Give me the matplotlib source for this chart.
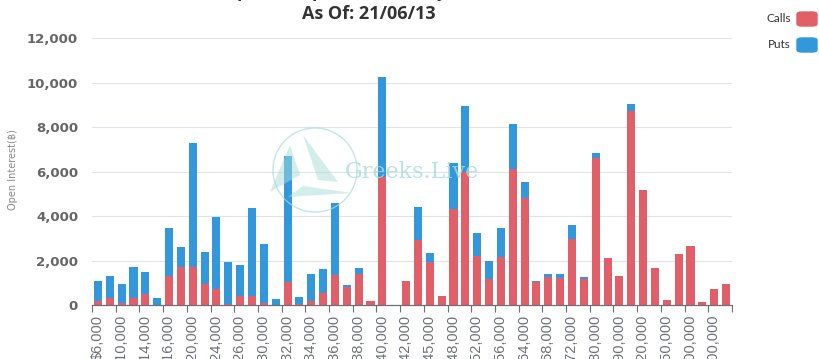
import numpy as np
import matplotlib
matplotlib.use("Agg")
import matplotlib.pyplot as plt
from matplotlib.patches import FancyBboxPatch, Ellipse, Polygon

# ----------------------
# data
# ----------------------
strikes = [6000, 8000, 10000, 12000, 14000, 15000, 16000, 18000, 20000, 22000,
           24000, 25000, 26000, 28000, 30000, 31000, 32000, 33000, 34000, 35000,
           36000, 37000, 38000, 39000, 40000, 41000, 42000, 44000, 45000, 46000,
           48000, 50000, 52000, 54000, 56000, 60000, 64000, 65000, 68000, 70000,
           72000, 75000, 80000, 85000, 90000, 100000, 120000, 140000, 150000, 160000,
           200000, 250000, 300000, 400000]
calls = [200, 330, 80, 300, 490, 0, 1300, 1720, 1700, 950,
         700, 30, 400, 400, 80, 0, 1050, 30, 180, 560,
         1350, 800, 1400, 195, 5760, 0, 1100, 2920, 1920, 400,
         4300, 5990, 2200, 1170, 2170, 6100, 4820, 1050, 1250, 1200,
         2950, 1180, 6590, 2120, 1320, 8730, 5160, 1680, 225, 2300,
         2650, 120, 720, 940]
puts = [900, 970, 870, 1400, 1010, 300, 2170, 900, 5600, 1450,
        3270, 1890, 1400, 3940, 2640, 250, 5640, 320, 1210, 1060,
        3220, 100, 280, 0, 4490, 0, 0, 1500, 430, 0,
        2060, 2960, 1050, 830, 1290, 2030, 690, 40, 130, 180,
        640, 70, 260, 0, 0, 300, 0, 0, 0, 0,
        0, 0, 0, 0]

labels = ["${:,}".format(s) for s in strikes]

RED = "#e05f68"
BLUE = "#3398db"

fig = plt.figure(figsize=(8.2, 3.59), dpi=100)
ax = fig.add_axes([92 / 820, 1 - 305 / 359, 640 / 820, 267 / 359])

x = np.arange(len(strikes))
ax.bar(x, calls, width=0.68, color=RED, zorder=3)
ax.bar(x, puts, width=0.68, bottom=calls, color=BLUE, zorder=3)

ax.set_xlim(-0.5, len(strikes) - 0.5)
ax.set_ylim(0, 12000)

# y axis
ax.set_yticks(range(0, 12001, 2000))
ax.set_yticklabels(["{:,}".format(v) for v in range(0, 12001, 2000)],
                   fontsize=9.5, fontweight="bold", color="#666666")
ax.tick_params(axis="y", length=0, pad=10)
ax.grid(axis="y", color="#e0e3ea", linewidth=0.8, zorder=0)

# x axis: ticks on boundaries, labels on every other bar
ax.set_xticks(np.arange(-0.5, len(strikes), 2))
ax.set_xticklabels([])
ax.tick_params(axis="x", which="major", length=5, color="#6e7079", width=0.8)
ax.set_xticks(x[::2], minor=True)
ax.set_xticklabels(labels[::2], minor=True, rotation=90, fontsize=10.5,
                   color="#6e7079", family="Liberation Sans")
ax.tick_params(axis="x", which="minor", length=0, pad=7)

for s in ["top", "right", "left"]:
    ax.spines[s].set_visible(False)
ax.spines["bottom"].set_color("#6e7079")
ax.spines["bottom"].set_linewidth(0.9)
ax.spines["bottom"].set_zorder(4)

fig.text(8 / 820, 1 - 170 / 359, "Open Interest(\u0e3f)", rotation=90,
         fontsize=7, color="#888888", ha="left", va="center",
         family=["DejaVu Sans", "Noto Sans"])

# title (first line is cut off at the top)
fig.text(369 / 820, 1 + 3 / 359, "BTC Options Open Interest by Strike Price",
         ha="center", va="baseline", fontsize=13, fontweight="bold",
         color="#333333", family="Open Sans")
fig.text(369 / 820, 1 - 19 / 359, "As Of: 21/06/13",
         ha="center", va="baseline", fontsize=13, fontweight="bold",
         color="#333333", family="Open Sans")

# legend
for name, col, yc in [("Calls", RED, 19), ("Puts", BLUE, 45)]:
    fig.patches.append(FancyBboxPatch((797 / 820, 1 - (yc + 7) / 359), 20 / 820, 14 / 359,
                                      boxstyle="round,pad=0,rounding_size=0.006",
                                      transform=fig.transFigure, color=col))
    fig.text(791 / 820, 1 - yc / 359, name, ha="right", va="center",
             fontsize=8.5, color="#333333", family="Lato")

# watermark
wm = "#a8dcd8"
fig.patches.append(Ellipse((315 / 820, 1 - 170 / 359), 84 / 820, 84 / 359,
                           transform=fig.transFigure, fill=False, ec=wm,
                           lw=1, alpha=0.7))
for pts in [[(270, 192), (290, 145), (300, 175)],
            [(303, 135), (318, 180), (338, 182)],
            [(288, 197), (303, 186), (352, 193)]]:
    fig.patches.append(Polygon([(px / 820, 1 - py / 359) for px, py in pts],
                               closed=True, transform=fig.transFigure,
                               color=wm, alpha=0.5, lw=0))
fig.text(345 / 820, 1 - 172 / 359, "Greeks.Live", ha="left", va="center",
         fontsize=16, family="DejaVu Serif", color=wm, alpha=0.8)

fig.savefig("out.png", dpi=100)
